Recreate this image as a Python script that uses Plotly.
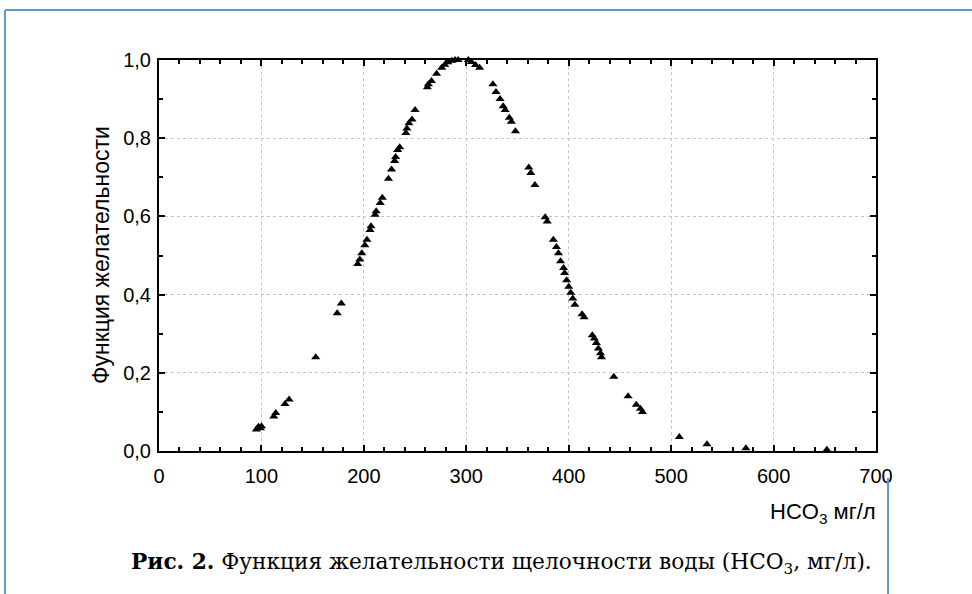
import plotly.graph_objects as go

# ---- data ----
hco3 = [95, 97, 99, 100, 112, 114, 123, 127, 153, 174, 178,
        194, 196, 198, 201, 203, 206, 207, 211, 212, 216, 218,
        224, 227, 230, 231, 233, 235, 241, 242, 244, 247, 250,
        262, 263, 266, 271, 276, 279, 282, 286, 289, 292,
        302, 305, 309, 313,
        326, 329, 333, 336, 338, 342, 344, 348,
        361, 363, 367, 377, 379,
        385, 388, 390, 392, 395, 396, 398, 400, 402, 404, 406,
        413, 415, 423, 425, 427, 429, 431, 432,
        444, 458, 466, 470, 472, 508, 535, 573, 652]
desirability = [0.055, 0.062, 0.058, 0.063, 0.088, 0.097, 0.12, 0.132, 0.24, 0.352, 0.377,
                0.478, 0.49, 0.506, 0.526, 0.54, 0.565, 0.575, 0.604, 0.613, 0.634, 0.648,
                0.696, 0.72, 0.742, 0.752, 0.77, 0.777, 0.813, 0.825, 0.838, 0.848, 0.872,
                0.93, 0.938, 0.946, 0.965, 0.98, 0.988, 0.994, 0.998, 1.0, 1.0,
                1.0, 0.995, 0.987, 0.98,
                0.938, 0.918, 0.9, 0.882, 0.872, 0.852, 0.842, 0.818,
                0.725, 0.711, 0.68, 0.598, 0.587,
                0.54, 0.522, 0.506, 0.485, 0.468, 0.455, 0.437, 0.42, 0.405, 0.39, 0.374,
                0.35, 0.342, 0.296, 0.288, 0.276, 0.262, 0.25, 0.24,
                0.19, 0.14, 0.118, 0.108, 0.1, 0.036, 0.017, 0.007, 0.003]

x_ticks = [0, 100, 200, 300, 400, 500, 600, 700]
x_ticktext = ["0", "100", "200", "300", "400", "500", "600", "700"]
y_ticks = [0.0, 0.2, 0.4, 0.6, 0.8, 1.0]
y_ticktext = ["0,0", "0,2", "0,4", "0,6", "0,8", "1,0"]

y_title = "Функция желательности"
x_title = "HCO<sub>3</sub> мг/л"
caption = "<b>Рис. 2.</b> Функция желательности щелочности воды (HCO<sub>3</sub>, мг/л)."

# ---- layout geometry (pixels) ----
W, H = 972, 594
L, R, T, B = 159, 876, 60, 451

SANS = "Liberation Sans, Arial, sans-serif"
SERIF = "DejaVu Serif, Liberation Serif, serif"


def px(x):
    return (x - L) / (R - L)


def py(y):
    return (B - y) / (B - T)


fig = go.Figure()
fig.add_trace(go.Scatter(
    x=hco3, y=desirability, mode="markers",
    marker=dict(symbol="triangle-up", size=8, color="black"),
    cliponaxis=False, showlegend=False,
))

axis_common = dict(
    showline=True, linecolor="black", linewidth=2, mirror="ticks",
    ticks="inside", ticklen=6, tickwidth=1.5, tickcolor="black",
    showgrid=True, gridcolor="#c4c4c4", griddash="dot", gridwidth=1,
    zeroline=False,
    tickfont=dict(family=SANS, size=20, color="black"),
)

fig.update_xaxes(
    range=[0, 700], tickvals=x_ticks, ticktext=x_ticktext,
    ticklabelstandoff=6,
    minor=dict(ticks="inside", dtick=20, ticklen=4, tickwidth=1.5, tickcolor="black", showgrid=False),
    **axis_common,
)
fig.update_yaxes(
    range=[0, 1], tickvals=y_ticks, ticktext=y_ticktext,
    ticklabelstandoff=2,
    minor=dict(ticks="inside", dtick=0.1, ticklen=4, tickwidth=1.5, tickcolor="black", showgrid=False),
    **axis_common,
)

blue = "#5b9bd0"
shapes = [
    dict(type="line", xref="paper", yref="paper", x0=px(5), x1=px(980), y0=py(10), y1=py(10),
         line=dict(color=blue, width=2)),
    dict(type="line", xref="paper", yref="paper", x0=px(5), x1=px(5), y0=py(10), y1=py(600),
         line=dict(color=blue, width=2)),
    dict(type="line", xref="paper", yref="paper", x0=px(888), x1=px(888), y0=py(478), y1=py(600),
         line=dict(color=blue, width=2)),
]

annotations = [
    dict(text=y_title, xref="paper", yref="paper", x=px(101), y=py(255),
         xanchor="center", yanchor="middle", textangle=-90, showarrow=False,
         font=dict(family=SANS, size=23, color="black")),
    dict(text=x_title, xref="paper", yref="paper", x=px(878), y=py(513),
         xanchor="right", yanchor="middle", showarrow=False,
         font=dict(family=SANS, size=22, color="black")),
    dict(text=caption, xref="paper", yref="paper", x=px(501), y=py(563),
         xanchor="center", yanchor="middle", showarrow=False,
         font=dict(family=SERIF, size=21.7, color="black")),
]

fig.update_layout(
    width=W, height=H,
    margin=dict(l=L, r=W - R, t=T, b=H - B),
    paper_bgcolor="white", plot_bgcolor="white",
    shapes=shapes, annotations=annotations,
)

fig.write_html("out.html", config={"displayModeBar": False},
               post_script="document.body.style.margin='0px';")
